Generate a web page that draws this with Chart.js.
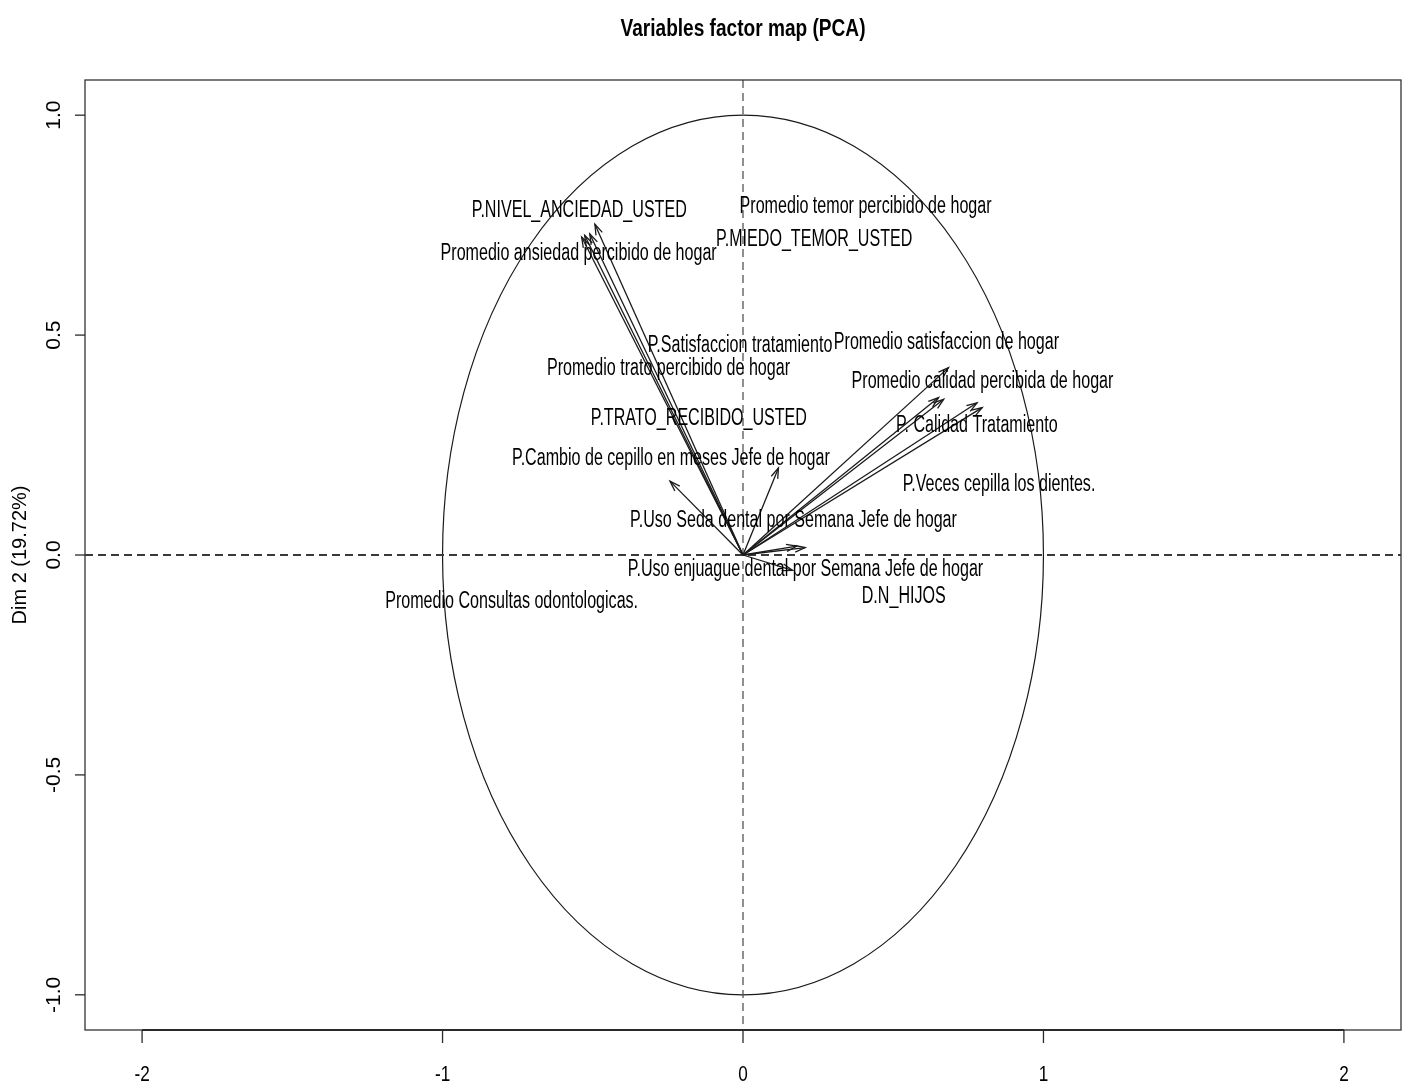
<!DOCTYPE html>
<html lang="es">
<head>
<meta charset="UTF-8">
<title>Variables factor map (PCA)</title>
<style>
  body { margin: 0; background: #fff; }
  #wrap { width: 1410px; height: 1084px; }
</style>
</head>
<body>
<div id="wrap"><canvas id="pcaChart" width="1410" height="1084"></canvas></div>
<script src="https://cdn.jsdelivr.net/npm/chart.js"></script>
<script>
// flechas: coordenadas de las variables (Dim 1, Dim 2)
const arrowNames = [
  'P.NIVEL_ANCIEDAD_USTED', 'Promedio ansiedad percibido de hogar', 'P.TRATO_RECIBIDO_USTED',
  'Promedio trato percibido de hogar', 'P.Cambio de cepillo en meses Jefe de hogar',
  'P.Uso Seda dental por Semana Jefe de hogar', 'Promedio satisfaccion de hogar',
  'Promedio calidad percibida de hogar', 'P.Satisfaccion tratamiento', 'P. Calidad Tratamiento',
  'P.Veces cepilla los dientes.', 'D.N_HIJOS', 'Promedio temor percibido de hogar',
  'P.Uso enjuague dental por Semana Jefe de hogar'
];
const dim1 = [-0.493, -0.537, -0.527, -0.51, -0.243, 0.118, 0.684, 0.668, 0.651, 0.796, 0.779, 0.207, 0.179, 0.165];
const dim2 = [0.752, 0.723, 0.727, 0.73, 0.168, 0.198, 0.426, 0.354, 0.358, 0.335, 0.346, 0.017, 0.02, -0.035];

// etiquetas tal como aparecen (posición del texto)
const labelNames = [
  'P.NIVEL_ANCIEDAD_USTED', 'Promedio ansiedad percibido de hogar', 'Promedio temor percibido de hogar',
  'P.MIEDO_TEMOR_USTED', 'P.Satisfaccion tratamiento', 'Promedio satisfaccion de hogar',
  'Promedio trato percibido de hogar', 'Promedio calidad percibida de hogar', 'P.TRATO_RECIBIDO_USTED',
  'P. Calidad Tratamiento', 'P.Cambio de cepillo en meses Jefe de hogar', 'P.Veces cepilla los dientes.',
  'P.Uso Seda dental por Semana Jefe de hogar', 'P.Uso enjuague dental por Semana Jefe de hogar',
  'D.N_HIJOS', 'Promedio Consultas odontologicas.'
];
const labelDim1 = [-0.545, -0.547, 0.408, 0.237, -0.01, 0.677, -0.248, 0.797, -0.147, 0.778, -0.24, 0.852, 0.168, 0.208, 0.535, -0.77];
const labelDim2 = [0.784, 0.686, 0.793, 0.718, 0.475, 0.482, 0.423, 0.393, 0.311, 0.293, 0.22, 0.161, 0.077, -0.034, -0.095, -0.107];

const xTicks = [-2, -1, 0, 1, 2];
const yTicks = [-1.0, -0.5, 0.0, 0.5, 1.0];

const ink = '#1a1a1a';

const datasets = arrowNames.map((name, i) => ({
  label: name,
  data: [{ x: 0, y: 0 }, { x: dim1[i], y: dim2[i] }],
  showLine: true,
  borderColor: ink,
  borderWidth: 1.3,
  pointRadius: 0
}));

// dibuja lo que R pone alrededor: círculo, ejes, títulos, flechas
const pcaDecor = {
  id: 'pcaDecor',
  beforeDatasetsDraw(chart) {
    const { ctx, chartArea: a, scales: { x, y } } = chart;
    const cx = x.getPixelForValue(0), cy = y.getPixelForValue(0);
    ctx.save();
    // círculo de correlación
    ctx.strokeStyle = ink;
    ctx.lineWidth = 1.2;
    ctx.beginPath();
    ctx.ellipse(cx, cy, x.getPixelForValue(1) - cx, cy - y.getPixelForValue(1), 0, 0, Math.PI * 2);
    ctx.stroke();
    // líneas punteadas
    ctx.setLineDash([8, 5]);
    ctx.strokeStyle = '#3a3a3a';
    ctx.lineWidth = 2;
    ctx.beginPath();
    ctx.moveTo(a.left, cy); ctx.lineTo(a.right, cy);
    ctx.stroke();
    ctx.lineWidth = 1.3;
    ctx.strokeStyle = '#555';
    ctx.beginPath();
    ctx.moveTo(cx, a.top); ctx.lineTo(cx, a.bottom);
    ctx.stroke();
    ctx.restore();
  },
  afterDatasetsDraw(chart) {
    const { ctx, chartArea: a, scales: { x, y } } = chart;
    const ox = x.getPixelForValue(0), oy = y.getPixelForValue(0);
    ctx.save();
    // puntas de flecha
    ctx.strokeStyle = ink;
    ctx.lineWidth = 1.3;
    dim1.forEach((v, i) => {
      const px = x.getPixelForValue(v), py = y.getPixelForValue(dim2[i]);
      const ang = Math.atan2(py - oy, px - ox);
      const len = 11, spread = 0.32;
      ctx.beginPath();
      ctx.moveTo(px - len * Math.cos(ang - spread), py - len * Math.sin(ang - spread));
      ctx.lineTo(px, py);
      ctx.lineTo(px - len * Math.cos(ang + spread), py - len * Math.sin(ang + spread));
      ctx.stroke();
    });

    // etiquetas de variables (fuente estrecha como la de R)
    ctx.fillStyle = '#000';
    ctx.font = '23px "Liberation Sans", Arial, sans-serif';
    const sx = 215 / ctx.measureText('P.NIVEL_ANCIEDAD_USTED').width;
    ctx.textAlign = 'center';
    ctx.textBaseline = 'middle';
    labelNames.forEach((t, i) => {
      ctx.save();
      ctx.translate(x.getPixelForValue(labelDim1[i]), y.getPixelForValue(labelDim2[i]));
      ctx.scale(sx, 1);
      ctx.fillText(t, 0, 0);
      ctx.restore();
    });

    // caja
    ctx.strokeStyle = '#333';
    ctx.lineWidth = 1.3;
    ctx.strokeRect(a.left, a.top, a.right - a.left, a.bottom - a.top);

    // eje x
    ctx.lineWidth = 2.2;
    ctx.strokeStyle = '#2a2a2a';
    ctx.beginPath();
    ctx.moveTo(x.getPixelForValue(xTicks[0]), a.bottom);
    ctx.lineTo(x.getPixelForValue(xTicks[xTicks.length - 1]), a.bottom);
    ctx.stroke();
    ctx.lineWidth = 1.3;
    ctx.font = '22px "Liberation Sans", Arial, sans-serif';
    ctx.textBaseline = 'middle';
    xTicks.forEach(v => {
      const px = x.getPixelForValue(v);
      ctx.beginPath();
      ctx.moveTo(px, a.bottom); ctx.lineTo(px, a.bottom + 13);
      ctx.stroke();
      ctx.save();
      ctx.translate(px, a.bottom + 45);
      ctx.scale(0.78, 1);
      ctx.fillText(String(v), 0, 0);
      ctx.restore();
    });

    // eje y (etiquetas giradas)
    ctx.font = '21px "Liberation Sans", Arial, sans-serif';
    yTicks.forEach(v => {
      const py = y.getPixelForValue(v);
      ctx.beginPath();
      ctx.moveTo(a.left, py); ctx.lineTo(a.left - 10, py);
      ctx.stroke();
      ctx.save();
      ctx.translate(a.left - 31, py);
      ctx.rotate(-Math.PI / 2);
      ctx.fillText(v.toFixed(1), 0, 0);
      ctx.restore();
    });
    ctx.save();
    ctx.font = '20px "Liberation Sans", Arial, sans-serif';
    ctx.translate(20, y.getPixelForValue(0));
    ctx.rotate(-Math.PI / 2);
    ctx.fillText('Dim 2 (19.72%)', 0, 0);
    ctx.restore();

    // título
    ctx.font = 'bold 23px "Liberation Sans", Arial, sans-serif';
    const title = 'Variables factor map (PCA)';
    const tsx = 245 / ctx.measureText(title).width;
    ctx.translate((a.left + a.right) / 2, 30);
    ctx.scale(tsx, 1);
    ctx.fillText(title, 0, 0);
    ctx.restore();
  }
};

new Chart(document.getElementById('pcaChart'), {
  type: 'scatter',
  data: { datasets },
  options: {
    responsive: false,
    animation: false,
    layout: { padding: { left: 85, right: 9, top: 80, bottom: 54 } },
    plugins: { legend: { display: false }, tooltip: { enabled: false } },
    scales: {
      x: { display: false, min: -2.19, max: 2.19 },
      y: { display: false, min: -1.08, max: 1.08 }
    }
  },
  plugins: [pcaDecor]
});
</script>
</body>
</html>
